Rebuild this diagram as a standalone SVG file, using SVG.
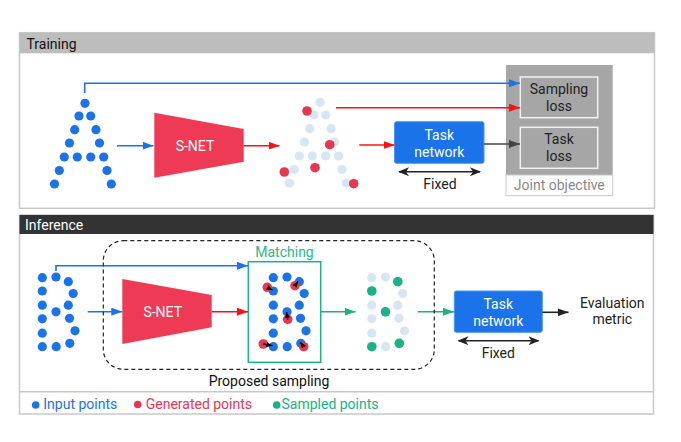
<svg xmlns="http://www.w3.org/2000/svg" width="681" height="442" viewBox="0 0 681 442">
<style>
text{font-family:Roboto,"Liberation Sans",Arial,sans-serif;font-size:14px}
.in{fill:#1a73e8}
.lt{fill:#d8e5f3}
.gen{fill:#e8364f}
.smp{fill:#19b386}
.frame{fill:#fff;stroke:#c8c8c8;stroke-width:1.5}
.snet{fill:#ee3a55}
.tn{fill:#1a73e8;stroke:#4d94f0;stroke-width:1}
.wt{fill:#fff;text-anchor:middle}
.bk{fill:#222;text-anchor:middle}
.loss{fill:#a6a6a6;stroke:#f2f2f2;stroke-width:1.5}
</style>
<defs>
<marker id="mBlue" markerUnits="userSpaceOnUse" markerWidth="11" markerHeight="8" refX="11" refY="4" orient="auto"><path d="M0,0 L11,4 L0,8 z" fill="#1a73e8"/></marker>
<marker id="mRed" markerUnits="userSpaceOnUse" markerWidth="11" markerHeight="8" refX="11" refY="4" orient="auto"><path d="M0,0 L11,4 L0,8 z" fill="#ff1010"/></marker>
<marker id="mBlk" markerUnits="userSpaceOnUse" markerWidth="11" markerHeight="8" refX="11" refY="4" orient="auto"><path d="M0,0 L11,4 L0,8 z" fill="#222"/></marker>
<marker id="mGray" markerUnits="userSpaceOnUse" markerWidth="11" markerHeight="8" refX="11" refY="4" orient="auto"><path d="M0,0 L11,4 L0,8 z" fill="#444"/></marker>
<marker id="mGreen" markerUnits="userSpaceOnUse" markerWidth="11" markerHeight="8" refX="11" refY="4" orient="auto"><path d="M0,0 L11,4 L0,8 z" fill="#19b386"/></marker>
<marker id="mFix" markerUnits="userSpaceOnUse" markerWidth="11" markerHeight="9" refX="10" refY="4.5" orient="auto-start-reverse"><path d="M0,0 L11,4.5 L0,9 L3,4.5 z" fill="#222"/></marker>
<marker id="mTiny" markerUnits="userSpaceOnUse" markerWidth="6" markerHeight="5" refX="6" refY="2.5" orient="auto"><path d="M0,0 L6,2.5 L0,5 z" fill="#000"/></marker>
<g id="ptsA">
<circle cx="85" cy="103.3" r="4.6"/><circle cx="79" cy="116" r="4.6"/><circle cx="90.7" cy="116" r="4.6"/>
<circle cx="74.7" cy="129.7" r="4.6"/><circle cx="96" cy="129.7" r="4.6"/><circle cx="69.5" cy="143" r="4.6"/>
<circle cx="99.5" cy="143" r="4.6"/><circle cx="64.3" cy="157" r="4.6"/><circle cx="77.3" cy="157" r="4.6"/>
<circle cx="90.7" cy="157" r="4.6"/><circle cx="103.7" cy="157" r="4.6"/><circle cx="59.3" cy="170.5" r="4.6"/>
<circle cx="107" cy="170.5" r="4.6"/><circle cx="54.5" cy="184" r="4.6"/><circle cx="111.3" cy="184" r="4.6"/>
</g>
<g id="ptsB">
<circle cx="42.3" cy="277.7" r="4.6"/><circle cx="56" cy="277" r="4.6"/><circle cx="68.3" cy="281.7" r="4.6"/>
<circle cx="42.3" cy="291" r="4.6"/><circle cx="73.2" cy="293.5" r="4.6"/><circle cx="42.3" cy="305.2" r="4.6"/>
<circle cx="68.3" cy="305.2" r="4.6"/><circle cx="56" cy="311.8" r="4.6"/><circle cx="42.3" cy="318.8" r="4.6"/>
<circle cx="69.5" cy="318.3" r="4.6"/><circle cx="42.3" cy="333.2" r="4.6"/><circle cx="75" cy="330.8" r="4.6"/>
<circle cx="42.3" cy="346.7" r="4.6"/><circle cx="56.2" cy="346.7" r="4.6"/><circle cx="69.8" cy="343.3" r="4.6"/>
</g>
</defs>

<!-- Training panel -->
<g id="training-panel">
<rect class="frame" x="19.5" y="32.7" width="635" height="175.6"/>
<rect x="19.5" y="32.7" width="635" height="20.6" fill="#bdbdbd"/>
<text x="26.5" y="48.5" fill="#111">Training</text>
</g>

<!-- Inference panel -->
<g id="inference-panel">
<rect class="frame" x="19.5" y="215" width="634" height="199"/>
<line x1="19.5" y1="391.7" x2="653.5" y2="391.7" stroke="#c8c8c8" stroke-width="1.5"/>
<rect x="19.5" y="215" width="634" height="19" fill="#333"/>
<text x="25" y="229.8" fill="#fff">Inference</text>
</g>

<!-- Training nodes -->
<g id="input-A" class="in"><use href="#ptsA"/></g>
<g id="snet-train">
<polygon class="snet" points="154.3,112.7 243.7,129 243.7,161.7 154.3,177.7"/>
<text class="wt" x="195" y="151">S-NET</text>
</g>
<g id="generated-A">
<use href="#ptsA" class="lt" transform="translate(235,-1)"/>
<g class="gen">
<circle cx="307" cy="111" r="4.8"/><circle cx="329.7" cy="144.7" r="4.8"/><circle cx="315" cy="167.7" r="4.8"/>
<circle cx="284.3" cy="172" r="4.8"/><circle cx="353.7" cy="183.7" r="4.8"/>
</g>
</g>
<g id="task-network-train">
<rect class="tn" x="394.5" y="121.7" width="89.5" height="41.6" rx="2"/>
<text class="wt" x="439.3" y="139.5">Task</text>
<text class="wt" x="439.3" y="156.5">network</text>
<text class="bk" x="440" y="189">Fixed</text>
</g>
<g id="joint-objective">
<rect x="506" y="65" width="106.7" height="110" fill="#a6a6a6"/>
<rect x="506" y="175" width="106.7" height="20.7" fill="#fff" stroke="#c8c8c8" stroke-width="1"/>
<text x="559.3" y="190" fill="#888" text-anchor="middle" font-size="13.5">Joint objective</text>
</g>
<g id="sampling-loss">
<rect class="loss" x="520.3" y="77" width="77.4" height="40.7"/>
<text class="bk" x="559" y="93.5" font-size="14.5">Sampling</text>
<text class="bk" x="559" y="111" font-size="14.5">loss</text>
</g>
<g id="task-loss">
<rect class="loss" x="520.3" y="127.3" width="77.4" height="41"/>
<text class="bk" x="559" y="144.3" font-size="14.5">Task</text>
<text class="bk" x="559" y="161.3" font-size="14.5">loss</text>
</g>

<!-- Inference nodes -->
<g id="input-B" class="in"><use href="#ptsB"/></g>
<g id="snet-inf">
<polygon class="snet" points="122.3,279 211.7,295 211.7,327.3 122.3,344"/>
<text class="wt" x="162.7" y="316.5">S-NET</text>
</g>
<g id="matching">
<rect x="248.3" y="261.7" width="72.4" height="100.6" fill="#fff" stroke="#19b386" stroke-width="1.5"/>
<text x="284.5" y="257" fill="#2bb889" text-anchor="middle">Matching</text>
<use href="#ptsB" class="in" transform="translate(231,0)"/>
<g class="gen">
<circle cx="267.3" cy="287.3" r="4.8"/><circle cx="295" cy="285.7" r="4.8"/><circle cx="287.7" cy="319.3" r="4.8"/>
<circle cx="263.3" cy="344" r="4.8"/><circle cx="303.7" cy="346.7" r="4.8"/>
</g>
<g stroke="#000" stroke-width="1.3" fill="none">
<line x1="267.3" y1="287.3" x2="272.5" y2="290" marker-end="url(#mTiny)"/>
<line x1="295" y1="285.7" x2="298" y2="281.5" marker-end="url(#mTiny)"/>
<line x1="287.7" y1="319.3" x2="286.5" y2="312" marker-end="url(#mTiny)"/>
<line x1="263.3" y1="344" x2="272.5" y2="345.7" marker-end="url(#mTiny)"/>
<line x1="303.7" y1="346.7" x2="300.3" y2="342.3" marker-end="url(#mTiny)"/>
</g>
</g>
<g id="sampled-B">
<use href="#ptsB" class="lt" transform="translate(329.5,0)"/>
<g class="smp" transform="translate(329.5,0)">
<circle cx="68.3" cy="281.7" r="4.8"/><circle cx="42.3" cy="291" r="4.8"/><circle cx="56" cy="311.8" r="4.8"/>
<circle cx="42.3" cy="346.7" r="4.8"/><circle cx="69.8" cy="343.3" r="4.8"/>
</g>
</g>
<g id="task-network-inf">
<rect class="tn" x="454.3" y="291" width="88" height="41.3" rx="2"/>
<text class="wt" x="498.3" y="308.7">Task</text>
<text class="wt" x="498.3" y="325.7">network</text>
<text class="bk" x="498.3" y="357.7">Fixed</text>
</g>
<g id="evaluation-metric">
<text class="bk" x="612.3" y="307.5">Evaluation</text>
<text class="bk" x="612.3" y="324.3">metric</text>
</g>
<g id="proposed-sampling-label">
<text x="269" y="385.5" fill="#111" text-anchor="middle">Proposed sampling</text>
</g>

<!-- Connectors -->
<g id="connectors" fill="none" stroke-width="1.6">
<polyline points="84.7,93 84.7,83.3 520,83.3" stroke="#1a73e8" marker-end="url(#mBlue)"/>
<line x1="117" y1="145.7" x2="153.5" y2="145.7" stroke="#1a73e8" marker-end="url(#mBlue)"/>
<line x1="243.7" y1="145.7" x2="279.5" y2="145.7" stroke="#ff1010" marker-end="url(#mRed)"/>
<line x1="336" y1="107.7" x2="520" y2="107.7" stroke="#ff1010" marker-end="url(#mRed)"/>
<line x1="359.3" y1="145" x2="394.5" y2="145" stroke="#ff1010" marker-end="url(#mRed)"/>
<line x1="484" y1="144" x2="520" y2="144" stroke="#444" marker-end="url(#mGray)"/>
<line x1="399" y1="171.7" x2="480" y2="171.7" stroke="#222" marker-start="url(#mFix)" marker-end="url(#mFix)"/>
<polyline points="56,271 56,265.8 248,265.8" stroke="#1a73e8" marker-end="url(#mBlue)"/>
<line x1="87.7" y1="311.7" x2="122.3" y2="311.7" stroke="#1a73e8" marker-end="url(#mBlue)"/>
<line x1="211.7" y1="311.7" x2="248" y2="311.7" stroke="#ff1010" marker-end="url(#mRed)"/>
<line x1="320.7" y1="311.7" x2="355.5" y2="311.7" stroke="#19b386" marker-end="url(#mGreen)"/>
<line x1="417.7" y1="311.7" x2="454" y2="311.7" stroke="#19b386" marker-end="url(#mGreen)"/>
<line x1="542.3" y1="312.3" x2="568.5" y2="312.3" stroke="#222" marker-end="url(#mBlk)"/>
<line x1="458.5" y1="340.7" x2="538.5" y2="340.7" stroke="#222" marker-start="url(#mFix)" marker-end="url(#mFix)"/>
<rect x="103.3" y="240.7" width="331" height="128.6" rx="20" ry="20" stroke="#222" stroke-width="1.2" stroke-dasharray="4,3"/>
</g>

<!-- Legend -->
<g id="legend">
<circle class="in" cx="35.7" cy="405" r="3.8"/>
<text x="43.3" y="409" fill="#1a73e8">Input points</text>
<circle class="gen" cx="137.7" cy="404.5" r="3.8"/>
<text x="145.7" y="409" fill="#e8364f">Generated points</text>
<circle class="smp" cx="276.7" cy="405" r="3.8"/>
<text x="281.5" y="409" fill="#19b386">Sampled points</text>
</g>
</svg>
